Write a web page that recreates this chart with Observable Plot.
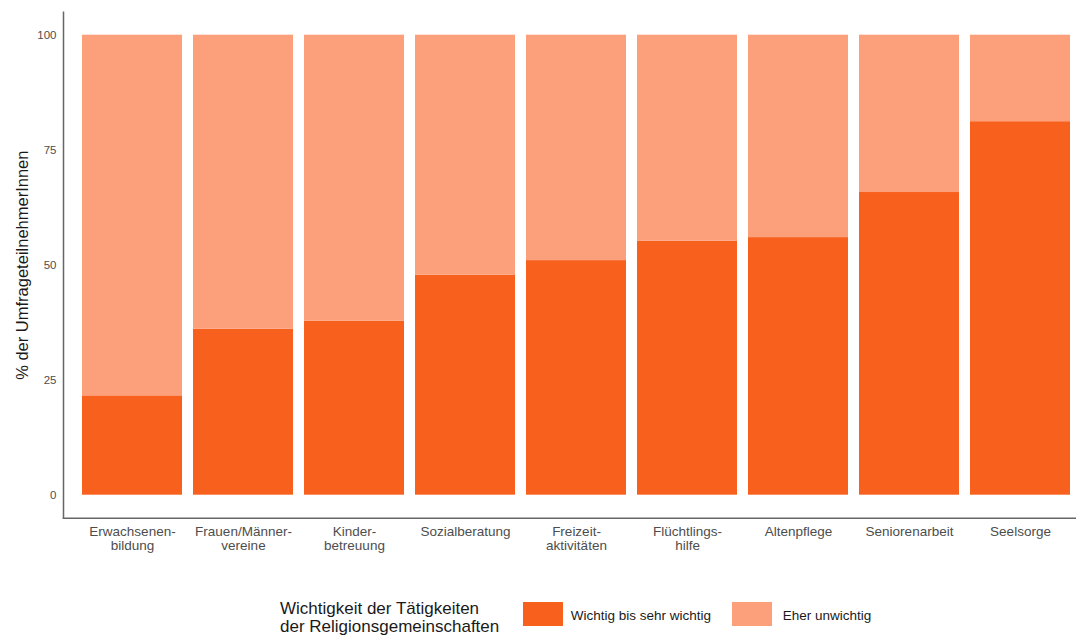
<!DOCTYPE html>
<html>
<head>
<meta charset="utf-8">
<script src="https://cdn.jsdelivr.net/npm/d3@7"></script>
<script src="https://cdn.jsdelivr.net/npm/@observablehq/plot@0.6"></script>
<style>
  html, body { margin: 0; padding: 0; background: #fff; overflow: hidden; }
  #wrap { position: relative; width: 1076px; height: 639px; overflow: hidden; font-family: "Liberation Sans", Arial, sans-serif; }
  #chart { width: 1090px; }
  #chart svg { display: block; max-width: none !important; }
  #legend { position: absolute; left: 0; top: 0; width: 1076px; height: 639px; pointer-events: none; }
  #legend div { position: absolute; white-space: nowrap; color: #1a1a1a; }
  #legend .title { font-size: 17px; line-height: 18px; }
  #legend .sw { width: 40px; height: 23.4px; }
  #legend .lab { font-size: 13.5px; line-height: 16px; }
</style>
</head>
<body>
<div id="wrap">
  <div id="chart"></div>
  <div id="legend"></div>
</div>
<script>
const categories = ["Erwachsenenbildung", "Frauen/Männervereine", "Kinderbetreuung", "Sozialberatung", "Freizeitaktivitäten", "Flüchtlingshilfe", "Altenpflege", "Seniorenarbeit", "Seelsorge"];
const tickLabels = ["Erwachsenen-\nbildung", "Frauen/Männer-\nvereine", "Kinder-\nbetreuung", "Sozialberatung", "Freizeit-\naktivitäten", "Flüchtlings-\nhilfe", "Altenpflege", "Seniorenarbeit", "Seelsorge"];
const series = ["Wichtig bis sehr wichtig", "Eher unwichtig"];
const colors = ["#f8601e", "#fc9f7b"];
const wichtig = [21.6, 36.1, 37.8, 47.8, 51.0, 55.2, 56.0, 65.8, 81.2];
const unwichtig = [78.4, 63.9, 62.2, 52.2, 49.0, 44.8, 44.0, 34.2, 18.8];
const yTicks = [0, 25, 50, 75, 100];
const legendTitle = ["Wichtigkeit der Tätigkeiten", "der Religionsgemeinschaften"];
const yLabel = "% der UmfrageteilnehmerInnen";

const data = [];
categories.forEach((c, i) => {
  data.push({cat: c, key: series[0], value: wichtig[i]});
  data.push({cat: c, key: series[1], value: unwichtig[i]});
});
const labelOf = new Map(categories.map((c, i) => [c, tickLabels[i]]));

const chart = Plot.plot({
  width: 1090,
  height: 565,
  marginLeft: 63,
  marginRight: 2,
  marginTop: 11.7,
  marginBottom: 47.3,
  style: {fontFamily: "Liberation Sans, Arial, sans-serif", background: "#fff", maxWidth: "none"},
  x: {domain: categories, paddingInner: 0.1, paddingOuter: 0.15, label: null},
  y: {domain: [-5, 105], label: null},
  color: {domain: series, range: colors},
  marks: [
    Plot.barY(data, {x: "cat", y: "value", fill: "key", order: series}),
    Plot.axisY(yTicks, {tickSize: 0, tickPadding: 7, fontSize: 11.5, fill: "#4d4d4d", label: null}),
    Plot.axisX({tickSize: 0, tickPadding: 7.5, fontSize: 13.5, fill: "#4d4d4d", lineHeight: 1.07, tickFormat: d => labelOf.get(d), label: null}),
    Plot.text([yLabel], {frameAnchor: "left", dx: -41, rotate: -90, fontSize: 16.5, fill: "#1a1a1a", textAnchor: "middle"}),
    Plot.frame({anchor: "left", stroke: "#666", strokeWidth: 1.5}),
    Plot.frame({anchor: "bottom", stroke: "#666", strokeWidth: 1.5})
  ]
});
document.getElementById("chart").appendChild(chart);

const leg = document.getElementById("legend");
function add(cls, left, top, html, bg) {
  const d = document.createElement("div");
  d.className = cls;
  d.style.left = left + "px";
  d.style.top = top + "px";
  if (html != null) d.innerHTML = html;
  if (bg) d.style.background = bg;
  leg.appendChild(d);
}
add("title", 280, 600, legendTitle.join("<br>"));
const swLeft = [522.7, 732];
const labLeft = [570.7, 782.7];
series.forEach((s, i) => {
  add("sw", swLeft[i], 602.3, null, colors[i]);
  add("lab", labLeft[i], 607.5, s);
});
</script>
</body>
</html>
